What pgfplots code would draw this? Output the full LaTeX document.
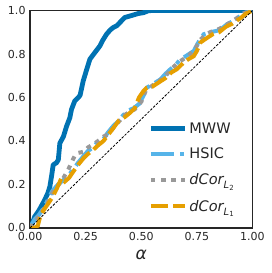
\documentclass[border=0pt]{standalone}
\usepackage{fontspec}
\setmainfont{DejaVu Sans}
\usepackage{pgfplots}
\pgfplotsset{compat=1.18}
\definecolor{cMWW}{HTML}{0072B2}
\definecolor{cHSIC}{HTML}{56B4E9}
\definecolor{cL2}{HTML}{999999}
\definecolor{cL1}{HTML}{E69F00}
\definecolor{axgray}{HTML}{262626}
\begin{document}
\begin{tikzpicture}
\useasboundingbox (-30pt,-45pt) rectangle (241pt,227.5pt);
\begin{axis}[
  at={(0pt,0pt)}, anchor=south west,
  width=222pt, height=217pt, scale only axis,
  xmin=0, xmax=1, ymin=0, ymax=1,
  xtick={0,0.25,0.5,0.75,1}, ytick={0,0.2,0.4,0.6,0.8,1},
  xticklabels={0.00,0.25,0.50,0.75,1.00},
  yticklabels={0.0,0.2,0.4,0.6,0.8,1.0},
  major tick length=0pt,
  /pgf/number format/assume math mode=true,
  tick label style={font=\fontsize{11}{11}\selectfont, text=axgray},
  xticklabel style={yshift=-1pt},
  yticklabel style={xshift=-1pt},
  axis line style={axgray, line width=1.2pt},
  xlabel={\itshape α},
  xlabel style={font=\fontsize{17}{17}\selectfont, text=axgray, yshift=-2pt},
  legend style={draw=none, fill=none, at={(0.532,0.495)}, anchor=north west,
    font=\fontsize{14.5}{14.5}\selectfont, text=axgray, row sep=9.5pt, inner sep=0pt,
    /tikz/every even column/.append style={column sep=9pt}},
  legend cell align=left,
  legend image code/.code={\draw[#1] (0pt,0pt) -- (34pt,0pt);},
]
\addplot[cMWW, line width=4.8pt, line join=round] coordinates {
(0,0) (0.01,0.02) (0.021,0.052) (0.04,0.08) (0.066,0.129) (0.08,0.16) (0.089,0.19)
(0.097,0.24) (0.104,0.29) (0.119,0.30) (0.127,0.313) (0.134,0.39) (0.15,0.42)
(0.164,0.467) (0.179,0.507) (0.186,0.544) (0.201,0.584) (0.216,0.599) (0.225,0.61)
(0.239,0.676) (0.255,0.73) (0.269,0.776) (0.291,0.806) (0.314,0.837) (0.325,0.86)
(0.344,0.891) (0.36,0.91) (0.374,0.922) (0.39,0.93) (0.404,0.945) (0.426,0.968)
(0.45,0.975) (0.486,0.986) (0.51,0.99) (0.532,0.999) (0.55,1) (1,1)};
\addlegendentry{MWW}
\addplot[cHSIC, line width=4pt, dash pattern=on 23pt off 6pt on 4pt off 6pt] coordinates {
(0,0) (0.01,0.02) (0.021,0.04) (0.04,0.06) (0.06,0.09) (0.081,0.13) (0.1,0.17)
(0.126,0.2) (0.15,0.22) (0.171,0.24) (0.195,0.27) (0.216,0.3) (0.24,0.33)
(0.261,0.355) (0.285,0.37) (0.306,0.4) (0.33,0.41) (0.351,0.44) (0.375,0.47)
(0.396,0.49) (0.42,0.52) (0.441,0.54) (0.465,0.55) (0.49,0.57) (0.511,0.61)
(0.525,0.645) (0.55,0.66) (0.586,0.683) (0.61,0.71) (0.631,0.73) (0.655,0.75)
(0.676,0.776) (0.7,0.79) (0.736,0.814) (0.76,0.86) (0.781,0.891) (0.81,0.9)
(0.841,0.907) (0.865,0.92) (0.886,0.937) (0.92,0.955) (0.946,0.976) (0.983,0.995) (1,1)};
\addlegendentry{HSIC}
\addplot[cL2, line width=4pt, dash pattern=on 4.5pt off 5.5pt] coordinates {
(0,0) (0.015,0.025) (0.03,0.04) (0.05,0.07) (0.07,0.1) (0.09,0.14) (0.11,0.18)
(0.13,0.2) (0.15,0.23) (0.171,0.267) (0.2,0.33) (0.216,0.345) (0.24,0.35)
(0.26,0.37) (0.285,0.385) (0.306,0.4) (0.33,0.42) (0.351,0.43) (0.375,0.46)
(0.4,0.49) (0.426,0.52) (0.45,0.535) (0.47,0.545) (0.5,0.58) (0.52,0.63)
(0.55,0.655) (0.58,0.675) (0.61,0.7) (0.635,0.73) (0.66,0.755) (0.68,0.77)
(0.71,0.79) (0.74,0.82) (0.765,0.865) (0.79,0.89) (0.82,0.905) (0.85,0.915)
(0.875,0.93) (0.9,0.945) (0.93,0.965) (0.955,0.985) (0.98,0.995) (1,1)};
\addlegendentry{\itshape dCor\raisebox{-0.5ex}{\fontsize{10}{10}\selectfont\itshape L\raisebox{-0.35ex}{\fontsize{7}{7}\selectfont\upshape 2}}}
\addplot[cL1, line width=4pt, dash pattern=on 17pt off 5pt] coordinates {
(0,0) (0.02,0.0) (0.035,0.01) (0.045,0.05) (0.06,0.08) (0.08,0.11) (0.1,0.14)
(0.12,0.18) (0.141,0.229) (0.156,0.213) (0.175,0.23) (0.195,0.26) (0.216,0.29)
(0.24,0.32) (0.26,0.34) (0.285,0.36) (0.306,0.38) (0.33,0.4) (0.351,0.428)
(0.375,0.46) (0.4,0.495) (0.426,0.51) (0.45,0.53) (0.47,0.55) (0.49,0.6)
(0.51,0.63) (0.525,0.645) (0.55,0.65) (0.58,0.67) (0.61,0.69) (0.635,0.715)
(0.66,0.73) (0.69,0.76) (0.71,0.775) (0.736,0.79) (0.75,0.814) (0.766,0.853)
(0.79,0.87) (0.82,0.89) (0.85,0.9) (0.88,0.925) (0.91,0.94) (0.946,0.965)
(0.97,0.985) (1,1)};
\addlegendentry{\itshape dCor\raisebox{-0.5ex}{\fontsize{10}{10}\selectfont\itshape L\raisebox{-0.35ex}{\fontsize{7}{7}\selectfont\upshape 1}}}
\addplot[black, line width=0.8pt, dash pattern=on 2.5pt off 1.5pt, forget plot] coordinates {(0,0) (1,1)};
\end{axis}
\end{tikzpicture}
\end{document}
